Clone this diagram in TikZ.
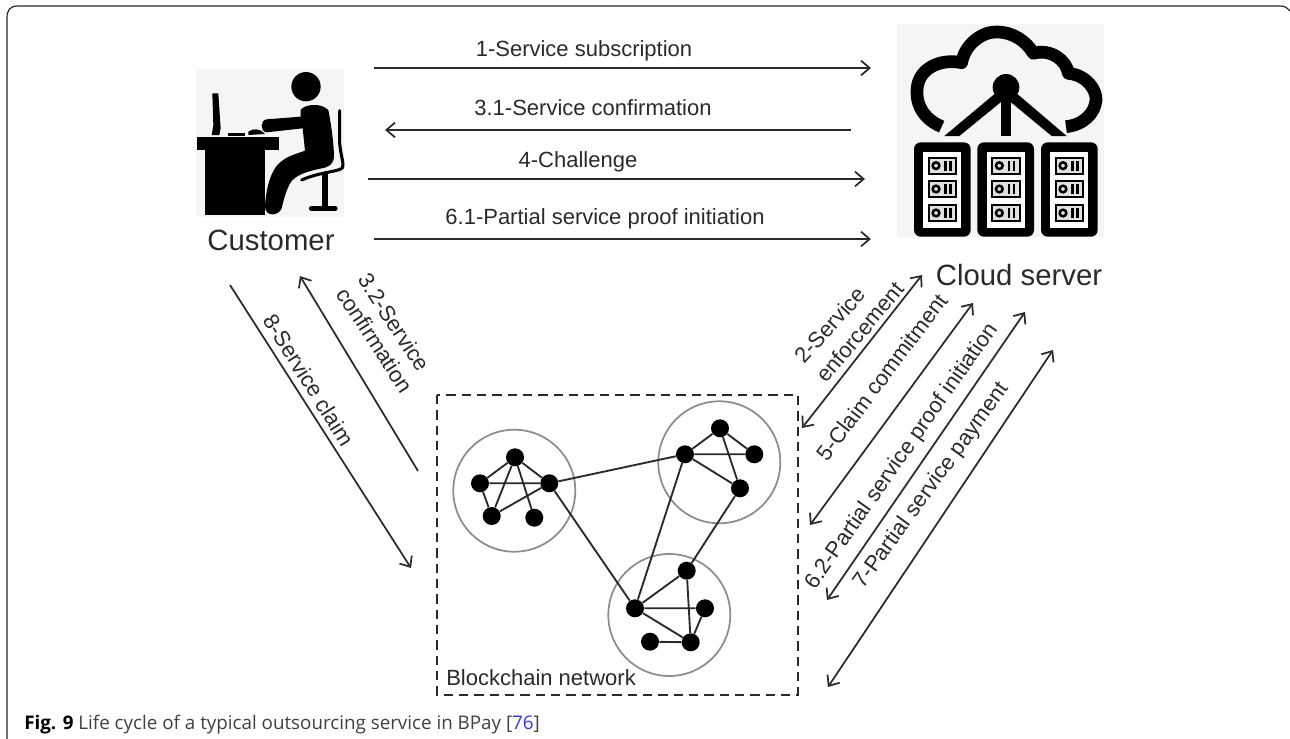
\documentclass[tikz,border=0pt]{standalone}
\usepackage{fontspec}
\setmainfont{Liberation Sans}
\newfontfamily\capfont{Open Sans}
\usetikzlibrary{arrows.meta}
\definecolor{ink}{HTML}{2A2A2A}
\definecolor{iconbg}{HTML}{F5F5F5}
\definecolor{citeblue}{HTML}{3333EE}
\tikzset{
 conn/.style={draw=ink,line width=1.3pt},
 one/.style={conn,-{Straight Barb[length=6.5pt,width=11pt,line width=1.3pt]}},
 both/.style={conn,{Straight Barb[length=6.5pt,width=11pt,line width=1.3pt]}-{Straight Barb[length=6.5pt,width=11pt,line width=1.3pt]}},
 lab/.style={inner sep=0pt,text=ink,font=\fontsize{16.5pt}{18pt}\selectfont,anchor=base},
 rlab/.style={inner sep=0pt,text=ink,font=\fontsize{16.5pt}{18pt}\selectfont,anchor=center},
 big/.style={inner sep=0pt,text=ink,font=\fontsize{22pt}{24pt}\selectfont,anchor=base},
 dot/.style={circle,fill=black,minimum size=13.5pt,inner sep=0pt},
 edge/.style={draw=ink,line width=1.4pt},
 ring/.style={circle,draw=black!45,line width=1.3pt,minimum size=91.5pt,inner sep=0pt},
}
\begin{document}
\begin{tikzpicture}[x=0.75pt,y=-0.75pt]
\useasboundingbox (0,0) rectangle (1290,739);
\draw[line width=0.9pt,black!85] (7,739) -- (7,18) .. controls (7,10) and (10,6) .. (18,6) -- (1280,6) .. controls (1285,6) and (1288,8) .. (1290,11);

% customer icon
\begin{scope}[shift={(180,60)},x=0.25pt,y=-0.25pt]
 \fill[iconbg] (48,28) rectangle (492,470);
 \fill (50,232) rectangle (298,270);
 \fill (75,265) rectangle (255,465);
 \fill (97,100) -- (115,100) -- (122,205) -- (118,225) -- (95,225) -- (100,195) -- cycle;
 \fill (145,218) rectangle (195,228);
 \fill (205,215) .. controls (220,204) and (240,205) .. (255,222) -- (205,225) -- cycle;
 \fill (378,80) circle (44);
 \fill (362,150) .. controls (370,135) and (420,125) .. (445,150)
   .. controls (455,200) and (462,260) .. (462,290)
   .. controls (460,315) and (445,322) .. (420,326)
   .. controls (380,335) and (345,345) .. (330,370)
   .. controls (315,400) and (310,425) .. (305,445)
   .. controls (295,470) and (255,470) .. (255,440)
   .. controls (258,380) and (275,320) .. (310,300)
   .. controls (330,285) and (355,280) .. (375,272)
   -- (368,205) -- (260,217)
   .. controls (240,215) and (240,180) .. (260,178)
   -- (362,170) -- cycle;
 \draw[line width=2.3pt,line cap=round,line join=round] (479,152) -- (479,250) .. controls (482,285) and (492,310) .. (488,322) .. controls (484,335) and (420,335) .. (365,360);
 \draw[line width=4pt] (435,335) -- (435,445);
 \draw[line width=3.6pt,line cap=round] (394,446) -- (466,446);
\end{scope}

% cloud server icon
\begin{scope}[shift={(880,10)},x=0.25pt,y=-0.25pt]
 \fill[iconbg] (52,42) rectangle (672,682);
 \draw[line width=9.5pt,line join=round]
   (185,350) .. controls (125,325) and (105,275) .. (112,230)
   .. controls (120,175) and (180,145) .. (245,158)
   .. controls (255,100) and (310,64) .. (350,66)
   .. controls (400,66) and (440,95) .. (460,130)
   .. controls (510,115) and (560,150) .. (565,190)
   .. controls (620,195) and (650,240) .. (648,270)
   .. controls (645,310) and (610,345) .. (558,350);
 \fill (378,232) circle (40);
 \fill (358,240) -- (193,378) -- (238,378) -- (385,258) -- cycle;
 \fill (398,240) -- (560,378) -- (515,378) -- (370,258) -- cycle;
 \fill (363,240) rectangle (393,378);
 \foreach \sx in {102,292,483}{
  \begin{scope}[shift={(\sx,397)}]
   \fill[rounded corners=5pt] (0,0) rectangle (170,283);
   \fill[white] (28,28) rectangle (142,258);
   \foreach \sy in {44,114,186}{
    \begin{scope}[shift={(0,\sy)}]
     \fill (41,0) rectangle (130,53);
     \fill[black!12] (47,6) rectangle (124,47);
     \draw[line width=1.9pt] (66,26) circle (10);
     \fill (91,11) rectangle (99,42);
     \fill (106,11) rectangle (114,42);
    \end{scope}
   }
  \end{scope}
 }
\end{scope}

\node[big] (customer) at (271,250) {Customer};
\node[big] (cloud) at (1019,285) {Cloud server};

% horizontal connectors
\coordinate (h1a) at (374,68);  \coordinate (h1b) at (871,68);
\coordinate (h2a) at (851,130); \coordinate (h2b) at (385,130);
\coordinate (h3a) at (368,179); \coordinate (h3b) at (865,179);
\coordinate (h4a) at (374,239); \coordinate (h4b) at (871,239);
\draw[one] (h1a) -- (h1b);
\draw[one] (h2a) -- (h2b);
\draw[one] (h3a) -- (h3b);
\draw[one] (h4a) -- (h4b);
\node[lab] (t1) at (584,56) {1-Service subscription};
\node[lab] (t31) at (593,115) {3.1-Service confirmation};
\node[lab] (t4) at (578,167) {4-Challenge};
\node[lab] (t61) at (605,224) {6.1-Partial service proof initiation};

% left diagonals
\coordinate (l1a) at (418,471); \coordinate (l1b) at (300,276);
\coordinate (l2a) at (230,285); \coordinate (l2b) at (411,568);
\draw[one] (l1a) -- (l1b);
\draw[one] (l2a) -- (l2b);
\node[rlab,rotate=-57] (t32) at (394,322) {3.2-Service};
\node[rlab,rotate=-57] (t32b) at (375,340) {confirmation};
\node[rlab,rotate=-58] (t8) at (309,380) {8-Service claim};

% right diagonals
\coordinate (r1a) at (802,428); \coordinate (r1b) at (922,275);
\coordinate (r2a) at (810,525); \coordinate (r2b) at (973,303);
\coordinate (r3a) at (827,600); \coordinate (r3b) at (1025,312);
\coordinate (r4a) at (828,687); \coordinate (r4b) at (1053,350);
\draw[both] (r1a) -- (r1b);
\draw[both] (r2a) -- (r2b);
\draw[both] (r3a) -- (r3b);
\draw[both] (r4a) -- (r4b);
\node[rlab,rotate=48] (t2) at (830,325) {2-Service};
\node[rlab,rotate=50] (t2b) at (860,332) {enforcement};
\node[rlab,rotate=53] (t5) at (882,377) {5-Claim commitment};
\node[rlab,rotate=55] (t62) at (902,457) {6.2-Partial service proof initiation};
\node[rlab,rotate=54] (t7) at (932,486) {7-Partial service payment};

% network box
\draw[draw=ink,line width=1.4pt,dash pattern=on 7pt off 4.5pt] (437,395) rectangle (798,695);
\node[lab,anchor=base west] (netlab) at (446,685) {Blockchain network};

% clusters
\node[ring] (c1) at (514.3,490.7) {};
\node[ring] (c2) at (719.3,462.3) {};
\node[ring] (c3) at (669.3,615) {};
\node[dot] (a) at (515,457.3) {};
\node[dot] (b) at (480,483.3) {};
\node[dot] (c) at (549.3,483.3) {};
\node[dot] (d) at (491.7,516) {};
\node[dot] (e) at (534.3,517.7) {};
\node[dot] (f) at (685,454.3) {};
\node[dot] (g) at (720,428.3) {};
\node[dot] (h) at (754.3,454.3) {};
\node[dot] (i) at (740,488.3) {};
\node[dot] (j) at (635,608.3) {};
\node[dot] (k) at (686.7,570.7) {};
\node[dot] (l) at (705,608.3) {};
\node[dot] (m) at (690.7,642.3) {};
\node[dot] (n) at (650,641.7) {};
\draw[edge] (a)--(b) (b)--(c) (a)--(c) (b)--(d) (a)--(d) (d)--(c) (a)--(e);
\draw[edge] (f)--(g) (g)--(h) (f)--(h) (f)--(i) (g)--(i);
\draw[edge] (j)--(k) (j)--(l) (j)--(m) (k)--(m) (l)--(m) (n)--(m);
\draw[edge] (c)--(f) (c)--(j) (f)--(j) (i)--(k);

\node[inner sep=0pt,anchor=base west,font=\capfont\fontsize{14.1pt}{16pt}\selectfont,text=black!75] (caption) at (24,729) {\textcolor{black}{\textbf{Fig. 9}} Life cycle of a typical outsourcing service in BPay [\textcolor{citeblue}{76}]};
\end{tikzpicture}
\end{document}
